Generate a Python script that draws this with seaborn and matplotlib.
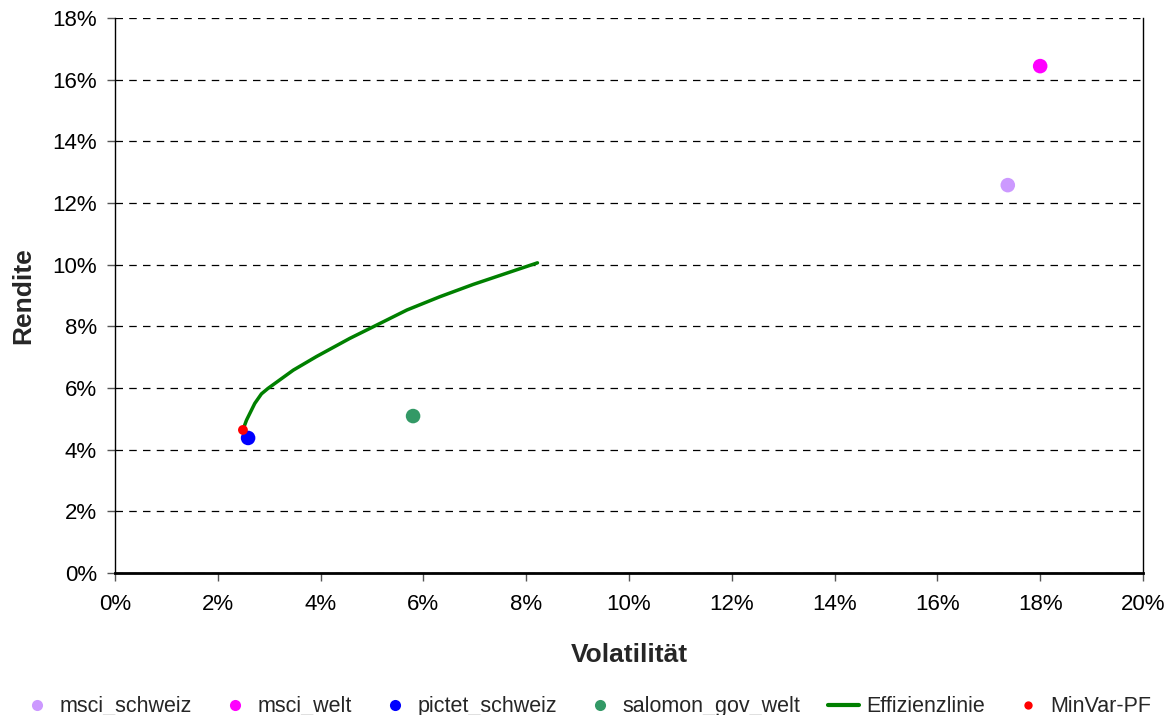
import matplotlib
matplotlib.use("Agg")
import matplotlib.pyplot as plt
import seaborn as sns
import pandas as pd
from matplotlib.ticker import FuncFormatter, MultipleLocator
from matplotlib.lines import Line2D

sns.set_style("white")
plt.rcParams['font.family'] = ['Liberation Sans', 'DejaVu Sans']

# Assets (volatility %, return %)
asset_names = ["msci_schweiz", "msci_welt", "pictet_schweiz", "salomon_gov_welt"]
asset_vol = [17.37, 18.0, 2.59, 5.80]
asset_ret = [12.58, 16.44, 4.38, 5.09]
asset_colors = ["#CC99FF", "#FF00FF", "#0000FF", "#339966"]

# Efficient frontier
ef_vol = [2.50, 2.56, 2.72, 2.85, 2.98, 3.47, 3.92, 4.57, 5.03, 5.68, 6.32, 6.97, 8.22]
ef_ret = [4.69, 4.96, 5.50, 5.81, 5.99, 6.58, 7.02, 7.61, 7.99, 8.53, 8.96, 9.36, 10.06]

# Minimum variance portfolio
minvar_vol = [2.49]
minvar_ret = [4.64]

fig = plt.figure(figsize=(11.73, 7.15), dpi=100)
ax = fig.add_axes([0.098, 0.1986, 0.8764, 0.7762])

ef_df = pd.DataFrame({"vol": ef_vol, "ret": ef_ret})
sns.lineplot(data=ef_df, x="vol", y="ret", sort=False, color="#008000",
             linewidth=2.5, ax=ax, zorder=3)

for name, v, r, c in zip(asset_names, asset_vol, asset_ret, asset_colors):
    sns.scatterplot(x=[v], y=[r], color=c, s=110, edgecolor="none", ax=ax, zorder=4)

sns.scatterplot(x=minvar_vol, y=minvar_ret, color="#FF0000", s=50,
                edgecolor="none", ax=ax, zorder=5)

ax.set_xlim(0, 20)
ax.set_ylim(0, 18)
ax.xaxis.set_major_locator(MultipleLocator(2))
ax.yaxis.set_major_locator(MultipleLocator(2))
pct = FuncFormatter(lambda v, p: f"{v:.0f}%")
ax.xaxis.set_major_formatter(pct)
ax.yaxis.set_major_formatter(pct)

ax.yaxis.grid(True, linestyle=(0, (6, 5)), color="black", linewidth=0.9)
ax.xaxis.grid(False)
ax.set_axisbelow(True)

ax.spines["top"].set_visible(False)
ax.spines["left"].set_color("black")
ax.spines["left"].set_linewidth(1.0)
ax.spines["right"].set_color("black")
ax.spines["right"].set_linewidth(1.0)
ax.spines["bottom"].set_color("black")
ax.spines["bottom"].set_linewidth(2.0)

ax.tick_params(axis="both", which="major", labelsize=16, direction="out",
               length=6, width=1, color="#555555", left=True, bottom=True,
               labelcolor="black")
ax.tick_params(axis="x", pad=9)
ax.tick_params(axis="y", pad=7)

ax.set_xlabel("Volatilität", fontsize=19, fontweight="bold", labelpad=20)
ax.set_ylabel("Rendite", fontsize=19, fontweight="bold", labelpad=12)

handles = []
labels = []
for name, c in zip(asset_names, asset_colors):
    handles.append(Line2D([], [], linestyle="none", marker="o", markersize=8,
                          markerfacecolor=c, markeredgecolor="none"))
    labels.append(name)
handles.append(Line2D([], [], color="#008000", linewidth=3))
labels.append("Effizienzlinie")
handles.append(Line2D([], [], linestyle="none", marker="o", markersize=6,
                      markerfacecolor="#FF0000", markeredgecolor="none"))
labels.append("MinVar-PF")

fig.legend(handles, labels, loc="lower center", ncol=6, frameon=False,
           prop={"family": ["Liberation Sans"], "size": 15.5},
           bbox_to_anchor=(0.5, -0.03), handlelength=1.4,
           handletextpad=0.35, columnspacing=1.3)

fig.savefig("out.png", dpi=100)
